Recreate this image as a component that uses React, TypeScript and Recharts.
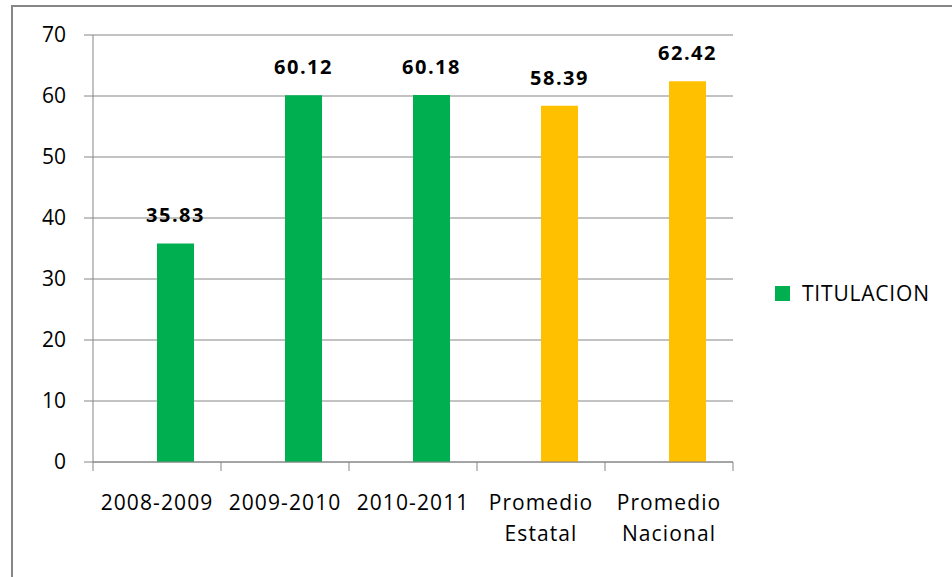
import React from "react";
import {
  BarChart,
  Bar,
  XAxis,
  YAxis,
  CartesianGrid,
  Legend,
  LabelList,
  Cell,
} from "recharts";

// data
const categories = [
  "2008-2009",
  "2009-2010",
  "2010-2011",
  "Promedio\nEstatal",
  "Promedio\nNacional",
];
// the source chart has an empty first series in each cluster, which pushes the bars right
const emptySeries = [null, null, null, null, null];
const titulacion = [35.83, 60.12, 60.18, 58.39, 62.42];
const barColors = ["#00B050", "#00B050", "#00B050", "#FFC000", "#FFC000"];
const yTicks = [0, 10, 20, 30, 40, 50, 60, 70];

const data = categories.map((c, i) => ({
  category: c,
  empty: emptySeries[i],
  value: titulacion[i],
}));

const FONT = "'Open Sans', 'Noto Sans', sans-serif";
const GRID = "#868686";
const TICK_SIZE = 9;
const X_TICK_MARGIN = 24;

const XTick = (props: any) => {
  const { x, y, payload, index } = props;
  const half = payload.offset ?? 64;
  const axisY = y - TICK_SIZE - X_TICK_MARGIN;
  const lines = String(payload.value).split("\n");
  return (
    <g>
      <line x1={x - half} x2={x - half} y1={axisY} y2={axisY + TICK_SIZE} stroke={GRID} />
      {index === categories.length - 1 && (
        <line x1={x + half} x2={x + half} y1={axisY} y2={axisY + TICK_SIZE} stroke={GRID} />
      )}
      <text
        x={x}
        y={y}
        textAnchor="middle"
        fontFamily={FONT}
        fontSize={21}
        fill="#000"
        style={{ letterSpacing: "1.1px" }}
      >
        {lines.map((l, i) => (
          <tspan key={i} x={x} dy={i === 0 ? "0.71em" : 31}>
            {l}
          </tspan>
        ))}
      </text>
    </g>
  );
};

const renderLegend = (props: any) => {
  const { payload } = props;
  return (
    <div style={{ display: "flex", flexDirection: "column", fontFamily: FONT }}>
      {(payload || [])
        .filter((e: any) => e.type !== "none")
        .map((e: any, i: number) => (
          <div key={i} style={{ display: "flex", alignItems: "center" }}>
            <span
              style={{ width: 15, height: 15, background: e.color, marginRight: 12, display: "inline-block" }}
            />
            <span style={{ fontSize: 21, color: "#000", letterSpacing: "0.8px" }}>{e.value}</span>
          </div>
        ))}
    </div>
  );
};

export default function App() {
  return (
    <div
      style={{
        position: "absolute",
        left: 0,
        top: 0,
        width: 952,
        height: 577,
        overflow: "hidden",
        background: "#fff",
      }}
    >
      <div
        style={{
          position: "absolute",
          left: 11,
          top: 5,
          width: 2000,
          height: 2000,
          borderTop: `2px solid ${GRID}`,
          borderLeft: `2px solid ${GRID}`,
        }}
      />
      <div style={{ position: "absolute", left: 0, top: 0 }}>
        <BarChart
          width={952}
          height={577}
          data={data}
          barGap={0}
          margin={{ top: 35, right: 219, bottom: 0, left: 0 }}
        >
          <CartesianGrid horizontal vertical={false} stroke={GRID} />
          <XAxis
            dataKey="category"
            height={115}
            interval={0}
            tickSize={TICK_SIZE}
            tickMargin={X_TICK_MARGIN}
            tickLine={false}
            axisLine={{ stroke: GRID }}
            tick={XTick}
          />
          <YAxis
            domain={[0, 70]}
            ticks={yTicks}
            interval={0}
            width={93}
            tickSize={TICK_SIZE}
            tickMargin={18}
            axisLine={{ stroke: GRID }}
            tickLine={{ stroke: GRID }}
            tick={{ fill: "#000", fontSize: 21, fontFamily: FONT }}
          />
          <Legend
            layout="vertical"
            align="center"
            verticalAlign="middle"
            wrapperStyle={{ left: 775, top: 279 }}
            content={renderLegend}
          />
          <Bar
            dataKey="empty"
            name=""
            legendType="none"
            fill="transparent"
            barSize={37}
            isAnimationActive={false}
          />
          <Bar
            dataKey="value"
            name="TITULACION"
            fill="#00B050"
            barSize={37}
            isAnimationActive={false}
          >
            {data.map((d, i) => (
              <Cell key={d.category} fill={barColors[i]} />
            ))}
            <LabelList
              dataKey="value"
              position="top"
              offset={21}
              fill="#000"
              fontWeight="bold"
              fontSize={20}
              fontFamily={FONT}
              style={{ letterSpacing: "1.5px" }}
            />
          </Bar>
        </BarChart>
      </div>
    </div>
  );
}
